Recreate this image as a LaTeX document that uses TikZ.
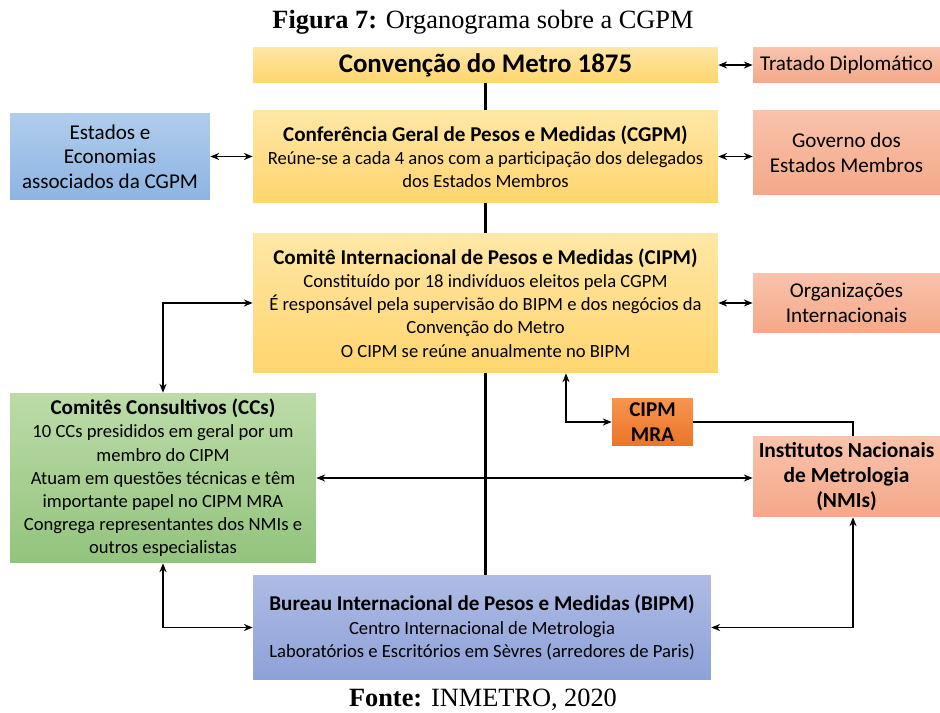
\documentclass[tikz,border=0pt]{standalone}
\usepackage{fontspec}
\setmainfont{Liberation Serif}
\newfontfamily\boxfont{Carlito}
\usetikzlibrary{arrows.meta,backgrounds}

\tikzset{
  orgbox/.style={align=center, inner sep=0pt, font={\boxfont\fontsize{10.6}{13.2}\selectfont}},
  yellowbox/.style={orgbox, top color=yellowtop, bottom color=yellowbot},
  salmonbox/.style={orgbox, top color=salmontop, bottom color=salmonbot},
  link/.style={{Stealth[length=5pt,width=4pt]}-{Stealth[length=5pt,width=4pt]}, line width=0.9pt},
}
\definecolor{yellowtop}{HTML}{FFE7A6}
\definecolor{yellowbot}{HTML}{FFD56E}
\definecolor{salmontop}{HTML}{F9C3AC}
\definecolor{salmonbot}{HTML}{F4A888}
\definecolor{bluetop}{HTML}{B0CDEC}
\definecolor{bluebot}{HTML}{8DB4E2}
\definecolor{greentop}{HTML}{BCDBA8}
\definecolor{greenbot}{HTML}{93C47D}
\definecolor{mratop}{HTML}{F79552}
\definecolor{mrabot}{HTML}{EC7424}
\definecolor{bipmtop}{HTML}{AEBBE4}
\definecolor{bipmbot}{HTML}{8EA1D8}

\newcommand{\boxtitle}[1]{{\bfseries\fontsize{12}{13.2}\selectfont #1}}

\begin{document}
\begin{tikzpicture}[x=0.02cm,y=-0.02cm]
\useasboundingbox (0,0) rectangle (940,713);

% caption
\node (caption) at (483,22) {\fontsize{15}{17}\selectfont\textbf{Figura 7:} Organograma sobre a CGPM};

% central column
\node[yellowbox, minimum width=9.3cm, minimum height=0.72cm] (conv) at (485.5,65)
  {{\bfseries\fontsize{15.3}{17}\selectfont Convenção do Metro 1875}};
\node[yellowbox, minimum width=9.3cm, minimum height=1.86cm] (cgpm) at (485.5,156.5)
  {\boxtitle{Conferência Geral de Pesos e Medidas (CGPM)}\\
   Reúne-se a cada 4 anos com a participação dos delegados\\
   dos Estados Membros};
\node[yellowbox, minimum width=9.3cm, minimum height=2.8cm] (cipm) at (485.5,303)
  {\boxtitle{Comitê Internacional de Pesos e Medidas (CIPM)}\\
   Constituído por 18 indivíduos eleitos pela CGPM\\
   É responsável pela supervisão do BIPM e dos negócios da\\
   Convenção do Metro\\
   O CIPM se reúne anualmente no BIPM};
\node[orgbox, top color=bipmtop, bottom color=bipmbot, minimum width=9.16cm, minimum height=2.1cm] (bipm) at (482,627.5)
  {\boxtitle{Bureau Internacional de Pesos e Medidas (BIPM)}\\
   Centro Internacional de Metrologia\\
   Laboratórios e Escritórios em Sèvres (arredores de Paris)};

% right column
\node[salmonbox, minimum width=3.74cm, minimum height=0.72cm, font={\boxfont\fontsize{12}{13}\selectfont}] (tratado) at (846.5,65)
  {Tratado Diplomático};
\node[salmonbox, minimum width=3.74cm, minimum height=1.7cm, font={\boxfont\fontsize{12}{14}\selectfont}] (governo) at (846.5,152.5)
  {Governo dos\\ Estados Membros};
\node[salmonbox, minimum width=3.74cm, minimum height=1.2cm, font={\boxfont\fontsize{12}{14}\selectfont}] (orgint) at (846.5,303)
  {Organizações\\ Internacionais};
\node[salmonbox, minimum width=3.74cm, minimum height=1.62cm, font={\boxfont\bfseries\fontsize{12.2}{14}\selectfont}] (nmi) at (846.5,476.5)
  {Institutos Nacionais\\ de Metrologia\\ (NMIs)};
\node[orgbox, top color=mratop, bottom color=mrabot, minimum width=1.62cm, minimum height=0.96cm, font={\boxfont\bfseries\fontsize{12}{14}\selectfont}] (mra) at (652.5,422)
  {CIPM\\ MRA};

% left column
\node[orgbox, top color=bluetop, bottom color=bluebot, minimum width=4cm, minimum height=1.74cm, font={\boxfont\fontsize{12}{14}\selectfont}] (estados) at (110,156.5)
  {Estados e\\ Economias\\ associados da CGPM};
\node[orgbox, top color=greentop, bottom color=greenbot, minimum width=6.12cm, minimum height=3.4cm] (ccs) at (163,478)
  {\boxtitle{Comitês Consultivos (CCs)}\\
   10 CCs presididos em geral por um\\
   membro do CIPM\\
   Atuam em questões técnicas e têm\\
   importante papel no CIPM MRA\\
   Congrega representantes dos NMIs e\\
   outros especialistas};

% source
\node (fonte) at (483,700) {\fontsize{15}{17}\selectfont\textbf{Fonte:} INMETRO, 2020};

% spine
\begin{scope}[on background layer]
  \draw[line width=2.2pt] (conv.south) -- (conv.south |- bipm.north);
\end{scope}

% connectors
\draw[link] (conv.east) -- (tratado.west);
\draw[link] (estados.east) -- (estados.east -| cgpm.west);
\draw[link] (cgpm.east) -- (cgpm.east -| governo.west);
\draw[link] (cipm.east) -- (orgint.west);
\draw[link] (cipm.west) -| (ccs.north);
\draw[link] ([xshift=1.61cm]cipm.south) |- (mra.west);
\draw[line width=0.9pt] (mra.east) -| ([xshift=0.13cm]nmi.north);
\draw[link] (ccs.east) -- (ccs.east -| nmi.west);
\draw[link] (ccs.south) |- (bipm.west);
\draw[link] ([xshift=0.13cm]nmi.south) |- (bipm.east);
\end{tikzpicture}
\end{document}
